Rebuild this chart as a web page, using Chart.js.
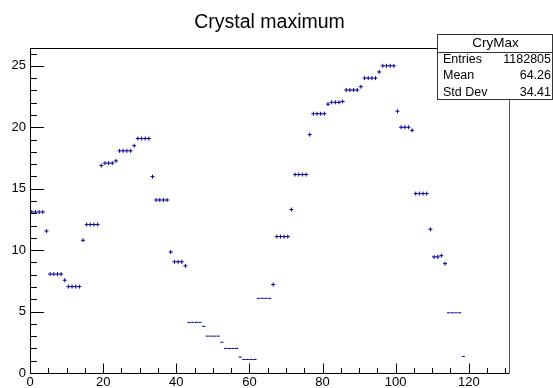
<!DOCTYPE html>
<html>
<head>
<meta charset="utf-8">
<title>Crystal maximum</title>
<script src="https://cdn.jsdelivr.net/npm/chart.js@4.4.1/dist/chart.umd.min.js"></script>
<style>
    html, body { margin: 0; padding: 0; background: #fff; }
</style>
</head>
<body>
<canvas id="cryChart" width="553" height="388"></canvas>
<script>
// CryMax histogram: lower bin edges (width 1) and bin contents
const binEdges = [
    0, 1, 2, 3, 4, 5, 6, 7, 8, 9, 10, 11, 12, 13, 14, 15, 16, 17, 18, 19,
    20, 21, 22, 23, 24, 25, 26, 27, 28, 29, 30, 31, 32, 33, 34, 35, 36, 37, 38, 39,
    40, 41, 42, 43, 44, 45, 46, 47, 48, 49, 50, 51, 52, 53, 54, 55, 56, 57, 58, 59,
    60, 61, 62, 63, 64, 65, 66, 67, 68, 69, 70, 71, 72, 73, 74, 75, 76, 77, 78, 79,
    80, 81, 82, 83, 84, 85, 86, 87, 88, 89, 90, 91, 92, 93, 94, 95, 96, 97, 98, 99,
    100, 101, 102, 103, 104, 105, 106, 107, 108, 109, 110, 111, 112, 113, 114, 115, 116, 117, 118
];
const binContents = [
    13.1, 13.1, 13.1, 13.1, 11.55, 8.05, 8.05, 8.05, 8.05, 7.55,
    7.03, 7.03, 7.03, 7.03, 10.8, 12.08, 12.08, 12.08, 12.08, 16.88,
    17.08, 17.08, 17.08, 17.26, 18.08, 18.08, 18.08, 18.08, 18.5, 19.08,
    19.08, 19.08, 19.08, 15.98, 14.08, 14.08, 14.08, 14.08, 9.85, 9.05,
    9.05, 9.05, 8.72, 4.12, 4.12, 4.12, 4.12, 3.8, 3.0, 3.0,
    3.0, 3.0, 2.5, 2.0, 2.0, 2.0, 2.0, 1.3, 1.1, 1.1,
    1.1, 1.1, 6.08, 6.08, 6.08, 6.08, 7.2, 11.1, 11.1, 11.1,
    11.1, 13.3, 16.15, 16.15, 16.15, 16.15, 19.4, 21.1, 21.1, 21.1,
    21.1, 21.88, 22.03, 22.03, 22.03, 22.1, 23.03, 23.03, 23.03, 23.03,
    23.3, 24.0, 24.0, 24.0, 24.0, 24.5, 25.0, 25.0, 25.0, 25.0,
    21.3, 20.0, 20.0, 20.0, 19.75, 14.6, 14.6, 14.6, 14.6, 11.7,
    9.45, 9.45, 9.55, 8.9, 4.9, 4.9, 4.9, 4.9, 1.35
];
const xRange = [0, 131];
const yRange = [0, 26.45];
const xTickStep = 20;
const yTickStep = 5;

const histTitle = 'Crystal maximum';
const statName = 'CryMax';
const statLabels = ['Entries', 'Mean', 'Std Dev'];
const statValues = ['1182805', '64.26', '34.41'];

const fontFamily = "'Liberation Sans', Arial, sans-serif";
Chart.defaults.font.family = fontFamily;
Chart.defaults.color = '#000';

// ROOT-like frame: inward ticks, title and the stats box
const rootFrame = {
    id: 'rootFrame',
    afterDatasetsDraw(chart) {
        const { ctx, chartArea: a, scales: { x, y } } = chart;
        ctx.save();
        ctx.lineWidth = 1;
        ctx.strokeStyle = '#000';
        ctx.beginPath();
        for (let v = 0; v <= y.max; v++) {
            const py = Math.round(y.getPixelForValue(v)) + 0.5;
            const len = v % yTickStep === 0 ? 14 : 7;
            ctx.moveTo(a.left, py);
            ctx.lineTo(a.left + len, py);
        }
        for (let v = 0; v <= x.max; v += 5) {
            const px = Math.round(x.getPixelForValue(v)) + 0.5;
            const len = v % xTickStep === 0 ? 9.5 : 5;
            ctx.moveTo(px, a.bottom);
            ctx.lineTo(px, a.bottom - len);
        }
        // left, bottom and top edges
        ctx.moveTo(a.left + 0.5, a.top + 0.5);
        ctx.lineTo(a.left + 0.5, a.bottom + 0.5);
        ctx.lineTo(a.right + 0.5, a.bottom + 0.5);
        ctx.moveTo(a.left + 0.5, a.top + 0.5);
        ctx.lineTo(a.right + 0.5, a.top + 0.5);
        ctx.stroke();

        ctx.strokeStyle = '#555';
        ctx.beginPath();
        ctx.moveTo(a.right + 0.5, a.top + 0.5);
        ctx.lineTo(a.right + 0.5, a.bottom + 0.5);
        ctx.stroke();
        ctx.restore();
    },
    afterDraw(chart) {
        const { ctx, chartArea: a } = chart;
        ctx.save();

        ctx.fillStyle = '#000';
        ctx.font = '19.5px ' + fontFamily;
        ctx.textAlign = 'center';
        ctx.textBaseline = 'alphabetic';
        ctx.fillText(histTitle, (a.left + a.right) / 2, 27.5);

        // stats box
        const bx = 437, by = 34, bw = 115, bh = 65;
        ctx.fillStyle = '#fff';
        ctx.fillRect(bx, by, bw, bh);
        ctx.strokeStyle = '#333';
        ctx.lineWidth = 1;
        ctx.strokeRect(bx + 0.5, by + 0.5, bw, bh);
        ctx.beginPath();
        ctx.moveTo(bx, by + 18.5);
        ctx.lineTo(bx + bw, by + 18.5);
        ctx.stroke();

        ctx.fillStyle = '#000';
        ctx.font = '13.5px ' + fontFamily;
        ctx.textAlign = 'center';
        ctx.fillText(statName, bx + bw / 2 + 1, by + 13);

        ctx.font = '12.5px ' + fontFamily;
        statLabels.forEach((label, i) => {
            const ty = by + 29 + i * 16.3;
            ctx.textAlign = 'left';
            ctx.fillText(label, bx + 6, ty);
            ctx.textAlign = 'right';
            ctx.fillText(statValues[i], bx + bw - 1, ty);
        });
        ctx.restore();
    }
};

const points = binEdges.map((edge, i) => ({ x: edge + 0.5, y: binContents[i] }));

// small contents carry almost no vertical error: draw them as short dashes
const isFlat = c => c.raw && c.raw.y < 7;

const cryCtx = document.getElementById('cryChart').getContext('2d');
const cryChart = new Chart(cryCtx, {
    type: 'scatter',
    data: {
        datasets: [
            {
                label: statName,
                data: points,
                borderColor: '#000099',
                backgroundColor: '#000099',
                borderWidth: 1,
                pointRadius: c => isFlat(c) ? 1.6 : 2,
                pointHoverRadius: 2,
                pointStyle: c => isFlat(c) ? 'line' : 'cross',
            }
        ]
    },
    options: {
        responsive: false,
        animation: false,
        events: [],
        layout: {
            padding: { top: 48, right: 44, bottom: 0, left: 0 }
        },
        plugins: {
            legend: { display: false },
            title: { display: false },
            tooltip: { enabled: false }
        },
        scales: {
            x: {
                type: 'linear',
                min: xRange[0],
                max: xRange[1],
                grid: { display: false, drawTicks: false },
                border: { display: false },
                ticks: {
                    stepSize: xTickStep,
                    padding: 2,
                    maxRotation: 0,
                    font: { size: 13 },
                    color: '#000'
                },
                afterBuildTicks: s => {
                    s.ticks = s.ticks.filter(t => t.value % xTickStep === 0);
                },
                afterFit: s => { s.height = 15; }
            },
            y: {
                type: 'linear',
                min: yRange[0],
                max: yRange[1],
                grid: { display: false, drawTicks: false },
                border: { display: false },
                ticks: {
                    stepSize: yTickStep,
                    padding: 4,
                    font: { size: 13 },
                    color: '#000'
                },
                afterBuildTicks: s => {
                    s.ticks = s.ticks.filter(t => t.value % yTickStep === 0);
                },
                afterFit: s => { s.width = 30; }
            }
        }
    },
    plugins: [rootFrame]
});
</script>
</body>
</html>
